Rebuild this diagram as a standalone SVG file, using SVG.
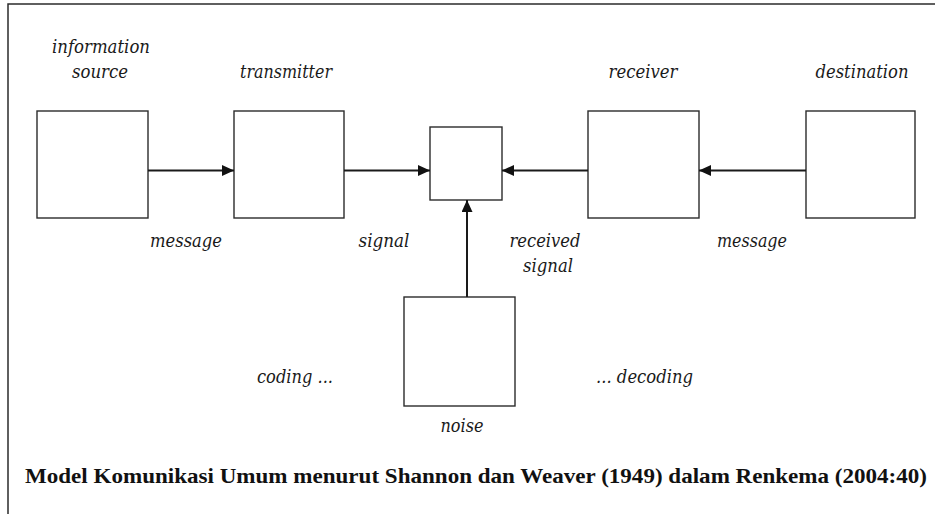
<svg xmlns="http://www.w3.org/2000/svg" width="935" height="514" viewBox="0 0 935 514">
  <style>
    .box { fill: #ffffff; stroke: #2b2b2b; stroke-width: 1.4; }
    .lbl { font-family: "DejaVu Serif", "Liberation Serif", serif; font-style: italic; font-size: 18px; fill: #1a1a1a; }
    .cap { font-family: "Liberation Serif", "Times New Roman", serif; font-weight: bold; font-size: 22px; fill: #111111; }
    .wire { stroke: #1a1a1a; stroke-width: 2; fill: none; marker-end: url(#head); }
    .frame { stroke: #2b2b2b; stroke-width: 1.5; fill: none; }
  </style>
  <defs>
    <marker id="head" markerUnits="userSpaceOnUse" markerWidth="12" markerHeight="11" refX="12" refY="5.5" orient="auto">
      <path d="M0,0 L12,5.5 L0,11 Z" fill="#111111"/>
    </marker>
  </defs>

  <rect width="935" height="514" fill="#ffffff"/>
  <!-- outer frame (top and left edges) -->
  <path class="frame" d="M8,514 L8,4 L935,4"/>

  <g id="source">
    <rect class="box" x="37" y="111" width="111" height="107"/>
    <text class="lbl" x="101" y="53" text-anchor="middle" textLength="98" lengthAdjust="spacingAndGlyphs">information</text>
    <text class="lbl" x="100" y="78" text-anchor="middle" textLength="56" lengthAdjust="spacingAndGlyphs">source</text>
  </g>

  <g id="transmitter">
    <rect class="box" x="234" y="111" width="110" height="107"/>
    <text class="lbl" x="286" y="78" text-anchor="middle" textLength="92" lengthAdjust="spacingAndGlyphs">transmitter</text>
  </g>

  <g id="channel">
    <rect class="box" x="430" y="127" width="72" height="73"/>
  </g>

  <g id="receiver">
    <rect class="box" x="588" y="111" width="111" height="107"/>
    <text class="lbl" x="643" y="78" text-anchor="middle" textLength="69" lengthAdjust="spacingAndGlyphs">receiver</text>
  </g>

  <g id="destination">
    <rect class="box" x="806" y="111" width="109" height="107"/>
    <text class="lbl" x="862" y="78" text-anchor="middle" textLength="93" lengthAdjust="spacingAndGlyphs">destination</text>
  </g>

  <g id="noise">
    <rect class="box" x="404" y="297" width="111" height="109"/>
    <text class="lbl" x="462" y="432" text-anchor="middle" textLength="43" lengthAdjust="spacingAndGlyphs">noise</text>
  </g>

  <g id="connectors">
    <line class="wire" x1="148" y1="170.5" x2="234" y2="170.5"/>
    <line class="wire" x1="344" y1="170.5" x2="430" y2="170.5"/>
    <line class="wire" x1="588" y1="170.5" x2="502" y2="170.5"/>
    <line class="wire" x1="806" y1="170.5" x2="699" y2="170.5"/>
    <line class="wire" x1="467" y1="297" x2="467" y2="200"/>
  </g>

  <g id="labels">
    <text class="lbl" x="186" y="247" text-anchor="middle" textLength="72" lengthAdjust="spacingAndGlyphs">message</text>
    <text class="lbl" x="384" y="247" text-anchor="middle" textLength="51" lengthAdjust="spacingAndGlyphs">signal</text>
    <text class="lbl" x="545" y="247" text-anchor="middle" textLength="71" lengthAdjust="spacingAndGlyphs">received</text>
    <text class="lbl" x="548" y="272" text-anchor="middle" textLength="50" lengthAdjust="spacingAndGlyphs">signal</text>
    <text class="lbl" x="752" y="247" text-anchor="middle" textLength="70" lengthAdjust="spacingAndGlyphs">message</text>
    <text class="lbl" x="257" y="383" textLength="76" lengthAdjust="spacingAndGlyphs">coding ...</text>
    <text class="lbl" x="596" y="383" textLength="97" lengthAdjust="spacingAndGlyphs">... decoding</text>
  </g>

  <text class="cap" x="25" y="483" textLength="902" lengthAdjust="spacingAndGlyphs">Model Komunikasi Umum menurut Shannon dan Weaver (1949) dalam Renkema (2004:40)</text>
</svg>
